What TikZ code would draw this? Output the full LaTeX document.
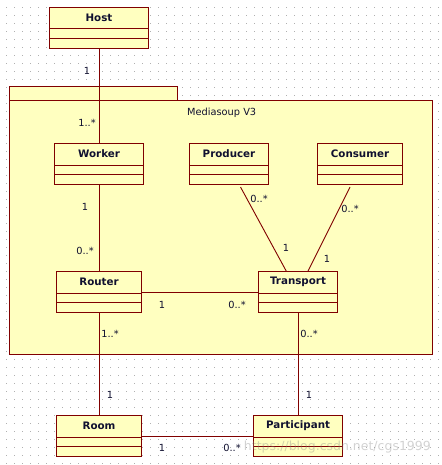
\documentclass[tikz,border=0pt]{standalone}
\usepackage{fontspec}
\setmainfont{DejaVu Sans}
\definecolor{umlfill}{HTML}{FFFFC0}
\definecolor{umlline}{HTML}{800000}
\definecolor{umltext}{HTML}{101030}
\definecolor{dotc}{HTML}{B0B0B0}
\tikzset{
  cls/.style={draw=umlline, fill=umlfill, line width=1pt, anchor=north west, inner sep=0pt, minimum height=41pt},
  clsname/.style={text=umltext, font=\fontsize{10.3}{12}\selectfont\bfseries, inner sep=0pt},
  divline/.style={draw=umlline, line width=1pt},
  conn/.style={draw=umlline, line width=0.9pt},
  mult/.style={text=umltext, font=\fontsize{9.8}{11}\selectfont, inner sep=0pt},
  pkg/.style={draw=umlline, fill=umlfill, line width=1pt},
}
\newcommand\umlcls[5]{%
  \node[cls, minimum width=#4pt] (#1) at (#2,#3) {};
  \node[clsname] (#1-t) at ([yshift=-11pt]#1.north) {#5};
  \draw[divline] ([yshift=-22pt]#1.north west) -- ([yshift=-22pt]#1.north east);
  \draw[divline] ([yshift=-31.5pt]#1.north west) -- ([yshift=-31.5pt]#1.north east);
}
\begin{document}
\begin{tikzpicture}[x=1pt, y=-1pt]
\useasboundingbox (0,0) rectangle (441,465);
\fill[white] (0,0) rectangle (441,465);
% dot grid
\foreach \i in {0,...,54} {
  \foreach \j in {0,...,57} {
    \fill[dotc] (6+8*\i,7+8*\j) rectangle +(1,1);
  }
}
% package
\draw[pkg] (9,87) rectangle (177,101);
\draw[pkg] (9,101) rectangle (432,354);
\node[mult, anchor=west] (pkgname) at (187,113) {Mediasoup V3};
% classes
\umlcls{host}{49}{7}{99}{Host}
\umlcls{worker}{54}{143}{89}{Worker}
\umlcls{producer}{189}{143}{79}{Producer}
\umlcls{consumer}{317}{143}{85}{Consumer}
\umlcls{router}{56}{271}{85}{Router}
\umlcls{transport}{258}{271}{79}{Transport}
\umlcls{room}{56}{415}{85}{Room}
\umlcls{participant}{253}{415}{89}{Participant}
% connectors
\draw[conn] (host.south) -- (worker.north);
\draw[conn] (worker.south) -- (router.north);
\draw[conn] (router.east) -- (transport.west);
\draw[conn] ([xshift=11.5pt,yshift=-2pt]producer.south) -- ([xshift=-11.8pt]transport.north);
\draw[conn] ([xshift=-10pt,yshift=-2pt]consumer.south) -- ([xshift=10pt]transport.north);
\draw[conn] (router.south) -- (room.north);
\draw[conn] (transport.south) -- (participant.north);
\draw[conn] (room.east) -- (participant.west);
% multiplicities
\node[mult] (m1) at (87,71) {1};
\node[mult] (m2) at (87,123) {1..*};
\node[mult] (m3) at (85,207) {1};
\node[mult] (m4) at (85,251) {0..*};
\node[mult] (m5) at (259,199) {0..*};
\node[mult] (m6) at (286,248) {1};
\node[mult] (m7) at (350,209) {0..*};
\node[mult] (m8) at (327,259) {1};
\node[mult] (m9) at (162,305) {1};
\node[mult] (m10) at (237,305) {0..*};
\node[mult] (m11) at (110,334) {1..*};
\node[mult] (m12) at (309,334) {0..*};
\node[mult] (m13) at (110,395) {1};
\node[mult] (m14) at (309,395) {1};
\node[mult] (m15) at (162,448) {1};
\node[mult] (m16) at (232,448) {0..*};
% watermark
\node[text=gray, opacity=0.35, font=\fontsize{12.5}{14}\selectfont, anchor=east, inner sep=0pt] (wm) at (431,447) {https://blog.csdn.net/cgs1999};
\end{tikzpicture}
\end{document}
